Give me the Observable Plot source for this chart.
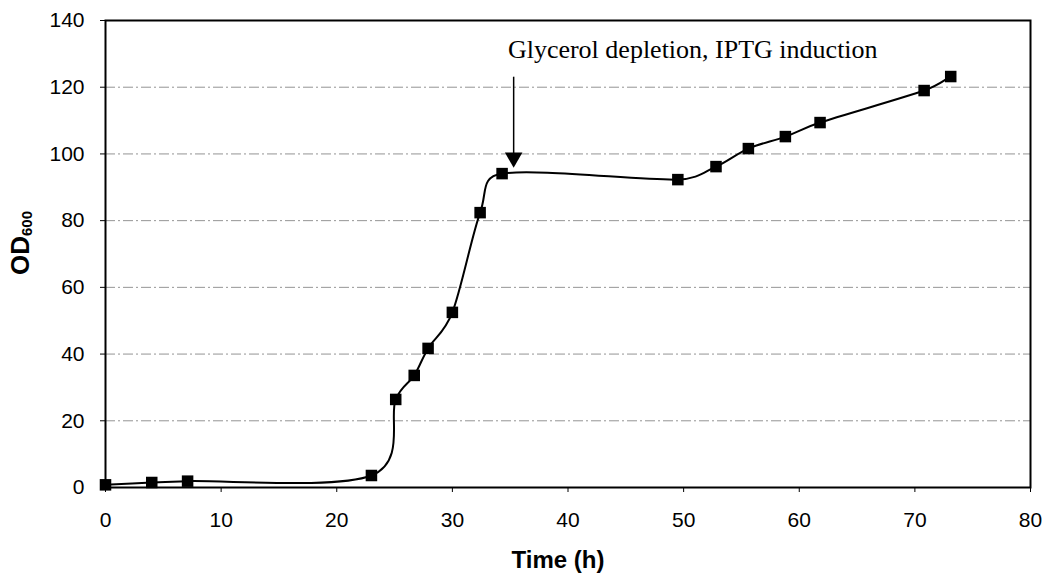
<!DOCTYPE html>
<html>
<head>
<meta charset="utf-8">
<script src="https://cdn.jsdelivr.net/npm/d3@7"></script>
<script src="https://cdn.jsdelivr.net/npm/@observablehq/plot@0.6"></script>
<style>
  html, body { margin: 0; padding: 0; background: #fff; }
  #chart { width: 1051px; height: 574px; }
</style>
</head>
<body>
<div id="chart"></div>
<script>
// Data
const timeH = [0, 4.0, 7.1, 23.0, 25.1, 26.7, 27.9, 30.0, 32.4, 34.3, 49.5, 52.8, 55.6, 58.8, 61.8, 70.8, 73.1];
const od600 = [0.8, 1.5, 1.9, 3.6, 26.4, 33.6, 41.7, 52.5, 82.4, 94.1, 92.3, 96.2, 101.6, 105.2, 109.4, 119.0, 123.2];

const xTicks = [0, 10, 20, 30, 40, 50, 60, 70, 80];
const yTicks = [0, 20, 40, 60, 80, 100, 120, 140];
const gridTicks = [20, 40, 60, 80, 100, 120];

const annotationText = ["Glycerol depletion, IPTG induction"];
const annotationX = [34.8];
const annotationY = [131.4];
const arrowX = [35.3];
const arrowTop = [123];
const arrowTip = [95];

const data = timeH.map((t, i) => ({t, od: od600[i]}));

// Spreadsheet-style smoothed line (cubic Bezier, tension 1/6, limited to half segment)
function ExcelSmooth(context) { this._context = context; }
ExcelSmooth.prototype = {
  areaStart() { this._line = 0; },
  areaEnd() { this._line = NaN; },
  lineStart() { this._pts = []; },
  point(x, y) { this._pts.push([+x, +y]); },
  lineEnd() {
    const p = this._pts, c = this._context, n = p.length;
    if (!n) return;
    c.moveTo(p[0][0], p[0][1]);
    const dist = (a, b) => Math.hypot(a[0] - b[0], a[1] - b[1]);
    for (let i = 0; i < n - 1; i++) {
      const P0 = p[i - 1] || p[i], P1 = p[i], P2 = p[i + 1], P3 = p[i + 2] || p[i + 1];
      const d12 = dist(P1, P2), d02 = dist(P0, P2), d13 = dist(P1, P3);
      const f1 = d02 / 6 < d12 / 2 ? 1 / 6 : (d12 / 2) / (d02 || 1);
      const f2 = d13 / 6 < d12 / 2 ? 1 / 6 : (d12 / 2) / (d13 || 1);
      c.bezierCurveTo(
        P1[0] + (P2[0] - P0[0]) * f1, P1[1] + (P2[1] - P0[1]) * f1,
        P2[0] - (P3[0] - P1[0]) * f2, P2[1] - (P3[1] - P1[1]) * f2,
        P2[0], P2[1]);
    }
  }
};
const excelCurve = (context) => new ExcelSmooth(context);

const W = 1051, H = 574;
const chart = Plot.plot({
  width: W,
  height: H,
  marginLeft: 105,
  marginRight: 21,
  marginTop: 20,
  marginBottom: 87,
  style: {fontFamily: "'Liberation Sans', Arial, sans-serif", fontSize: "21px", color: "#000", background: "#fff"},
  x: {domain: [0, 80]},
  y: {domain: [0, 140]},
  marks: [
    Plot.gridY(gridTicks, {stroke: "#666", strokeOpacity: 0.7, strokeWidth: 1, strokeDasharray: "10,3,2,3"}),
    Plot.axisX(xTicks, {tickSize: 5, tickPadding: 20, fontSize: 21, label: null}),
    Plot.axisY(yTicks, {tickSize: 5, tickPadding: 16, fontSize: 21, label: null}),
    Plot.frame({stroke: "#000", strokeWidth: 2}),
    Plot.line(data, {x: "t", y: "od", curve: excelCurve, stroke: "#000", strokeWidth: 2}),
    Plot.dot(data, {x: "t", y: "od", symbol: "square", r: 6.5, fill: "#000", stroke: "none"}),
    Plot.ruleX(arrowX.map((x, i) => ({x, y1: arrowTop[i], y2: arrowTip[i] + 4})), {x: "x", y1: "y1", y2: "y2", stroke: "#000", strokeWidth: 1.5}),
    Plot.dot(arrowX.map((x, i) => ({x, y: arrowTip[i]})), {x: "x", y: "y", symbol: "triangle", rotate: 180, r: 6.5, fill: "#000", stroke: "none", dy: -13}),
    Plot.text(annotationText.map((s, i) => ({s, x: annotationX[i], y: annotationY[i]})), {x: "x", y: "y", text: "s", textAnchor: "start", fontSize: 26, fontFamily: "'Liberation Serif', 'Times New Roman', serif", fill: "#000"})
  ]
});
document.getElementById("chart").appendChild(chart);

// Axis titles with subscript
const svg = d3.select(chart);
svg.append("text")
  .attr("x", 558).attr("y", 562)
  .attr("text-anchor", "middle")
  .attr("dominant-baseline", "middle")
  .attr("font-family", "'Liberation Sans', Arial, sans-serif")
  .attr("font-weight", "bold")
  .attr("font-size", 24)
  .attr("fill", "#000")
  .text("Time (h)");
const yl = svg.append("text")
  .attr("transform", "translate(29,243) rotate(-90)")
  .attr("text-anchor", "middle")
  .attr("font-family", "'Liberation Sans', Arial, sans-serif")
  .attr("font-weight", "bold")
  .attr("font-size", 26)
  .attr("fill", "#000");
yl.append("tspan").text("OD");
yl.append("tspan").attr("font-size", 15).attr("dy", 3).text("600");
</script>
</body>
</html>
